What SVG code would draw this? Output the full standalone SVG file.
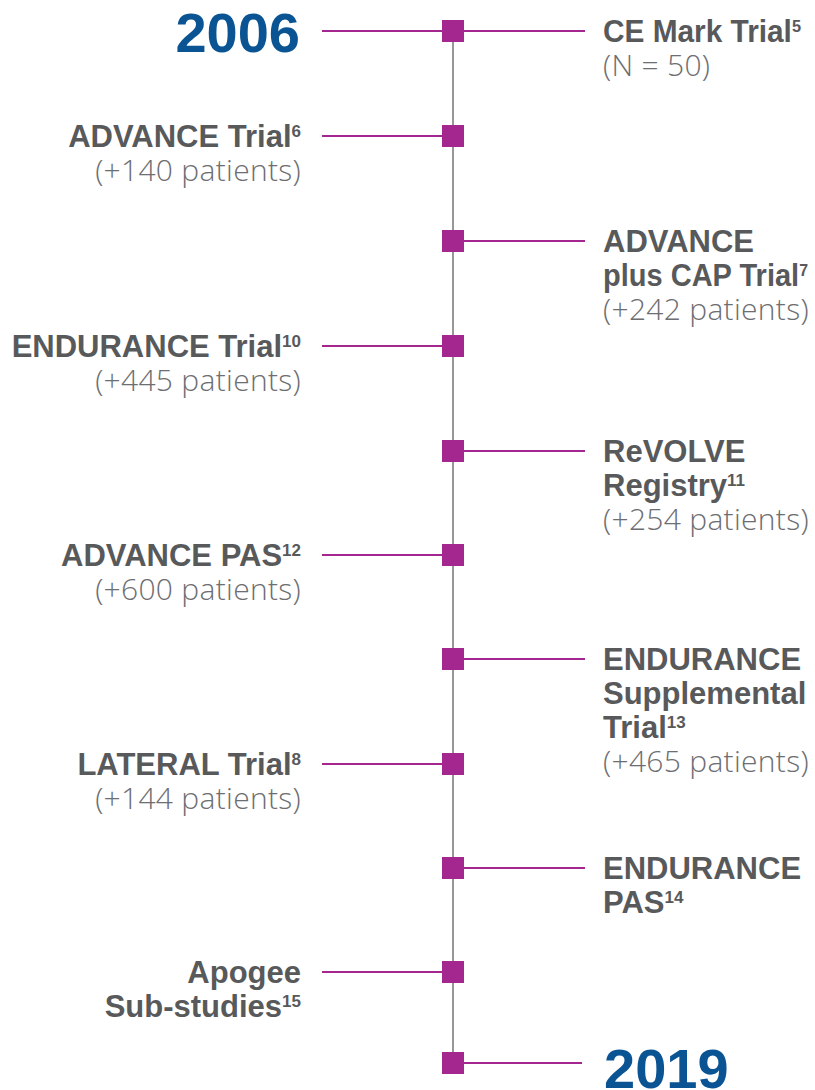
<svg xmlns="http://www.w3.org/2000/svg" width="815" height="1090" viewBox="0 0 815 1090">
<style>
.b{font-family:"Liberation Sans",Arial,sans-serif;font-weight:700;font-size:31px;fill:#58595B}
.l{font-family:"Open Sans",Roboto,"Liberation Sans",sans-serif;font-weight:300;font-size:30px;letter-spacing:0.3px;fill:#6D6E71}
.y{font-family:"Liberation Sans",Arial,sans-serif;font-weight:700;font-size:56px;fill:#0A5494}
.s{font-size:17px}
.e{text-anchor:end}
.c{stroke:#A4278F;stroke-width:2.2;fill:none}
.m{fill:#A4278F}
</style>
<g id="connectors">
<line x1="453" y1="31" x2="453" y2="1063" stroke="#8C8C8C" stroke-width="1.8"/>
<line class="c" x1="322" y1="31" x2="442" y2="31"/>
<line class="c" x1="464" y1="31" x2="585" y2="31"/>
<line class="c" x1="322" y1="136" x2="442" y2="136"/>
<line class="c" x1="464" y1="241" x2="585" y2="241"/>
<line class="c" x1="322" y1="346" x2="442" y2="346"/>
<line class="c" x1="464" y1="451" x2="585" y2="451"/>
<line class="c" x1="322" y1="555" x2="442" y2="555"/>
<line class="c" x1="464" y1="659" x2="585" y2="659"/>
<line class="c" x1="322" y1="764" x2="442" y2="764"/>
<line class="c" x1="464" y1="868" x2="585" y2="868"/>
<line class="c" x1="322" y1="972" x2="442" y2="972"/>
<line class="c" x1="464" y1="1063" x2="582" y2="1063"/>
</g>
<g id="markers">
<rect class="m" x="442" y="20" width="22" height="22"/>
<rect class="m" x="442" y="125" width="22" height="22"/>
<rect class="m" x="442" y="230" width="22" height="22"/>
<rect class="m" x="442" y="335" width="22" height="22"/>
<rect class="m" x="442" y="440" width="22" height="22"/>
<rect class="m" x="442" y="544" width="22" height="22"/>
<rect class="m" x="442" y="648" width="22" height="22"/>
<rect class="m" x="442" y="753" width="22" height="22"/>
<rect class="m" x="442" y="857" width="22" height="22"/>
<rect class="m" x="442" y="961" width="22" height="22"/>
<rect class="m" x="442" y="1052" width="22" height="22"/>
</g>
<g id="year-2006"><text class="y e" x="300" y="52">2006</text></g>
<g id="ce-mark">
<text class="b" x="603" y="42" textLength="198" lengthAdjust="spacingAndGlyphs">CE Mark Trial<tspan class="s" dy="-10">5</tspan></text>
<text class="l" x="603" y="76">(N = 50)</text>
</g>
<g id="advance">
<text class="b e" x="301" y="147">ADVANCE Trial<tspan class="s" dy="-10">6</tspan></text>
<text class="l e" x="301" y="181">(+140 patients)</text>
</g>
<g id="advance-cap">
<text class="b" x="603" y="252">ADVANCE</text>
<text class="b" x="603" y="286" textLength="205" lengthAdjust="spacingAndGlyphs">plus CAP Trial<tspan class="s" dy="-10">7</tspan></text>
<text class="l" x="603" y="320">(+242 patients)</text>
</g>
<g id="endurance">
<text class="b e" x="301" y="357">ENDURANCE Trial<tspan class="s" dy="-10">10</tspan></text>
<text class="l e" x="301" y="391">(+445 patients)</text>
</g>
<g id="revolve">
<text class="b" x="603" y="462">ReVOLVE</text>
<text class="b" x="603" y="496">Registry<tspan class="s" dy="-10">11</tspan></text>
<text class="l" x="603" y="530">(+254 patients)</text>
</g>
<g id="advance-pas">
<text class="b e" x="301" y="566">ADVANCE PAS<tspan class="s" dy="-10">12</tspan></text>
<text class="l e" x="301" y="600">(+600 patients)</text>
</g>
<g id="endurance-supp">
<text class="b" x="603" y="670">ENDURANCE</text>
<text class="b" x="603" y="704">Supplemental</text>
<text class="b" x="603" y="738">Trial<tspan class="s" dy="-10">13</tspan></text>
<text class="l" x="603" y="772">(+465 patients)</text>
</g>
<g id="lateral">
<text class="b e" x="301" y="775">LATERAL Trial<tspan class="s" dy="-10">8</tspan></text>
<text class="l e" x="301" y="809">(+144 patients)</text>
</g>
<g id="endurance-pas">
<text class="b" x="603" y="879">ENDURANCE</text>
<text class="b" x="603" y="913">PAS<tspan class="s" dy="-10">14</tspan></text>
</g>
<g id="apogee">
<text class="b e" x="301" y="983">Apogee</text>
<text class="b e" x="301" y="1017">Sub-studies<tspan class="s" dy="-10">15</tspan></text>
</g>
<g id="year-2019"><text class="y" x="604" y="1088">2019</text></g>
</svg>
